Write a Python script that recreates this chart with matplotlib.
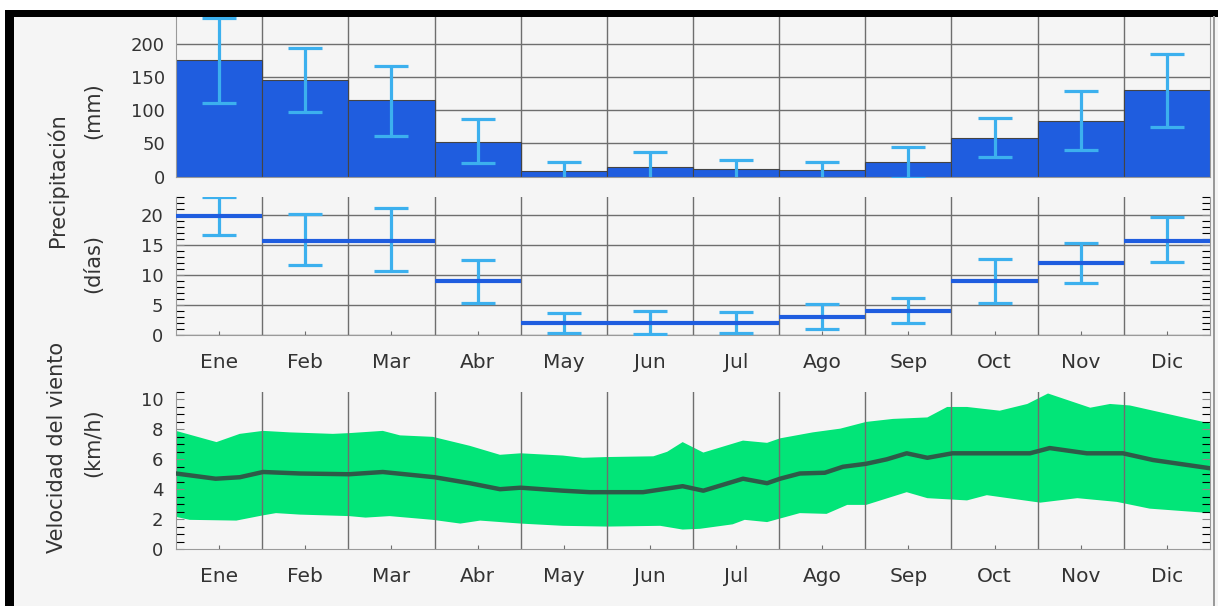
import numpy as np
import matplotlib.pyplot as plt
from matplotlib.patches import Rectangle

meses = ['Ene', 'Feb', 'Mar', 'Abr', 'May', 'Jun', 'Jul', 'Ago', 'Sep', 'Oct', 'Nov', 'Dic']

# precipitacion (mm): media y extremos de la barra de error
prec_mm = [175, 145, 115, 52.5, 9, 15, 11, 10, 21.5, 58.5, 83.5, 130]
prec_mm_lo = [111, 96.5, 61.5, 20, -3, -7, -3, -3, -1.5, 30, 39.5, 75]
prec_mm_hi = [238, 193.5, 166.5, 86, 21.5, 37.5, 25.5, 22.5, 44.5, 87.5, 129, 184]

# precipitacion (dias)
prec_dias = [19.8, 15.7, 15.7, 9, 2, 2, 2, 3.05, 4, 9, 12, 15.7]
prec_dias_lo = [16.7, 11.7, 10.7, 5.4, 0.4, 0.2, 0.3, 1, 2.05, 5.4, 8.7, 12.1]
prec_dias_hi = [23, 20.1, 21.1, 12.5, 3.7, 4, 3.9, 5.1, 6.1, 12.6, 15.3, 19.7]

# viento (km/h), posicion en meses desde el 1 de enero
t_sup = [0, 0.47, 0.74, 1.01, 1.32, 1.82, 2.01, 2.40, 2.60, 2.98, 3.41, 3.76, 4.0, 4.49, 4.72,
         5.0, 5.54, 5.70, 5.88, 6.12, 6.58, 6.86, 7.01, 7.39, 7.71, 8.01, 8.32, 8.72, 8.95,
         9.18, 9.56, 9.88, 10.12, 10.61, 10.84, 11.07, 11.65, 12.0]
v_sup = [7.9, 7.15, 7.7, 7.9, 7.8, 7.7, 7.75, 7.9, 7.6, 7.5, 6.9, 6.3, 6.4, 6.25, 6.1,
         6.15, 6.2, 6.5, 7.15, 6.45, 7.25, 7.1, 7.4, 7.8, 8.05, 8.5, 8.7, 8.8, 9.5,
         9.5, 9.25, 9.7, 10.4, 9.45, 9.7, 9.6, 8.85, 8.4]

t_med = [0, 0.46, 0.74, 1.01, 1.44, 2.01, 2.40, 3.0, 3.41, 3.76, 4.0, 4.49, 4.80, 5.42,
         5.88, 6.12, 6.58, 6.86, 7.01, 7.24, 7.53, 7.74, 8.01, 8.25, 8.48, 8.72, 9.01,
         9.91, 10.14, 10.57, 10.99, 11.34, 12.0]
v_med = [5.05, 4.7, 4.8, 5.15, 5.05, 5.0, 5.15, 4.8, 4.4, 4.0, 4.1, 3.9, 3.8, 3.8,
         4.2, 3.9, 4.7, 4.4, 4.7, 5.05, 5.1, 5.5, 5.7, 6.0, 6.4, 6.1, 6.4,
         6.4, 6.75, 6.4, 6.4, 5.95, 5.4]

t_inf = [0, 0.16, 0.70, 1.01, 1.16, 1.44, 2.01, 2.20, 2.48, 2.98, 3.30, 3.53, 4.0, 4.49,
         5.0, 5.62, 5.88, 6.08, 6.46, 6.60, 6.86, 7.24, 7.55, 7.79, 8.01, 8.48, 8.72,
         9.18, 9.41, 10.03, 10.46, 10.92, 11.30, 12.0]
v_inf = [2.15, 1.95, 1.9, 2.25, 2.4, 2.3, 2.2, 2.1, 2.2, 1.95, 1.7, 1.9, 1.7, 1.55,
         1.5, 1.55, 1.3, 1.35, 1.65, 1.95, 1.8, 2.4, 2.35, 2.95, 2.95, 3.8, 3.4,
         3.25, 3.6, 3.1, 3.4, 3.15, 2.7, 2.4]

W, H = 1218, 606
fondo = '#f5f5f5'
azul = '#1f5ddf'
azul_claro = '#3cb0ee'
verde = '#02e578'
gris = '#6e6e6e'
texto = '#333333'

fig = plt.figure(figsize=(W / 100, H / 100), dpi=100, facecolor='white')
fig.add_artist(Rectangle((5 / W, 0), 1213 / W, 596 / H, transform=fig.transFigure,
                         facecolor=fondo, edgecolor='none', zorder=-1))


def caja(x0, x1, ytop, ybot):
    return [x0 / W, 1 - ybot / H, (x1 - x0) / W, (ybot - ytop) / H]


ax1 = fig.add_axes(caja(176, 1210, 17, 176.7))
ax2 = fig.add_axes(caja(176, 1210, 197, 335))
ax3 = fig.add_axes(caja(176, 1210, 392, 549))

x = np.arange(12) + 0.5
limites = np.arange(1, 12)

for ax in (ax1, ax2, ax3):
    ax.set_facecolor(fondo)
    ax.set_xlim(0, 12)
    ax.set_xticks(x)
    ax.set_xticks(limites, minor=True)
    ax.tick_params(axis='x', which='major', direction='in', length=3, color=gris,
                   labelsize=14.5, labelcolor=texto, pad=13)
    ax.tick_params(axis='x', which='minor', length=0)
    ax.tick_params(axis='y', labelsize=13, labelcolor=texto, color='#8a8a8a')
    ax.spines['top'].set_visible(False)
    for s in ('left', 'right', 'bottom'):
        ax.spines[s].set_color('#9a9a9a')
    ax.grid(axis='x', which='minor', color=gris, lw=1, zorder=3)

# panel 1: mm
m = np.array(prec_mm)
ax1.bar(x, m, width=1.0, color=azul, edgecolor='#444444', linewidth=0.8, zorder=2)
ax1.errorbar(x, m, yerr=[m - np.array(prec_mm_lo), np.array(prec_mm_hi) - m], fmt='none',
             ecolor=azul_claro, elinewidth=2.3, capsize=12.5, capthick=2.3, zorder=4)
ax1.set_ylim(0, 240)
ax1.set_yticks([0, 50, 100, 150, 200])
ax1.grid(axis='y', color=gris, lw=1, zorder=1)
ax1.set_axisbelow(True)
ax1.tick_params(axis='y', length=0, pad=8)
ax1.set_xticklabels([])

# panel 2: dias
d = np.array(prec_dias)
ax2.errorbar(x, d, yerr=[d - np.array(prec_dias_lo), np.array(prec_dias_hi) - d], fmt='none',
             ecolor=azul_claro, elinewidth=2.3, capsize=12.5, capthick=2.3, zorder=4)
ax2.hlines(d, x - 0.5, x + 0.5, color=azul, lw=3, zorder=5)
ax2.set_ylim(0, 23)
ax2.set_yticks([0, 5, 10, 15, 20])
ax2.set_yticks(np.arange(0, 24), minor=True)
ax2.grid(axis='y', which='major', color=gris, lw=1, zorder=1)
ax2.tick_params(axis='y', which='both', direction='in', left=True, right=True,
                length=6, width=0.8, pad=9)
ax2.set_xticklabels(meses)

# panel 3: viento
ax3.fill(np.r_[t_sup, t_inf[::-1]], np.r_[v_sup, v_inf[::-1]], color=verde, lw=0, zorder=1)
ax3.plot(t_med, v_med, color='#2e5a48', lw=3.2, zorder=4)
ax3.set_ylim(0, 10.5)
ax3.set_yticks([0, 2, 4, 6, 8, 10])
ax3.set_yticks(np.arange(0, 10.6, 0.5), minor=True)
ax3.tick_params(axis='y', which='both', direction='in', left=True, right=True,
                length=6, width=0.8, pad=9)
ax3.set_xticklabels(meses)

# etiquetas de eje
fs = 15
fig.text(57 / W, 1 - 180 / H, 'Precipitación', rotation=90, ha='center', va='center',
         fontsize=fs, color=texto)
fig.text(93 / W, 1 - 111 / H, '(mm)', rotation=90, ha='center', va='center',
         fontsize=fs, color=texto)
fig.text(93 / W, 1 - 264 / H, '(días)', rotation=90, ha='center', va='center',
         fontsize=fs, color=texto)
fig.text(57 / W, 1 - 447 / H, 'Velocidad del viento', rotation=90, ha='center', va='center',
         fontsize=fs, color=texto)
fig.text(93 / W, 1 - 443 / H, '(km/h)', rotation=90, ha='center', va='center',
         fontsize=fs, color=texto)

# marco negro
fig.add_artist(Rectangle((5 / W, 1 - 17 / H), 1213 / W, 7 / H, transform=fig.transFigure,
                         facecolor='black', edgecolor='none', zorder=10))
fig.add_artist(Rectangle((5 / W, 0), 9 / W, 596 / H, transform=fig.transFigure,
                         facecolor='black', edgecolor='none', zorder=10))
fig.add_artist(Rectangle((1213 / W, 0), 2 / W, 590 / H, transform=fig.transFigure,
                         facecolor='#9a9a9a', edgecolor='none', zorder=10))

fig.savefig('out.png', dpi=100, facecolor='white')
